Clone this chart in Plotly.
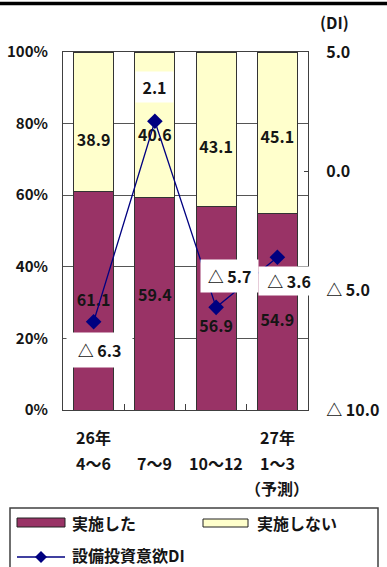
import plotly.graph_objects as go

# ---- data -------------------------------------------------------------
quarters = ["4〜6", "7〜9", "10〜12", "1〜3"]
year_row = ["26年", "", "", "27年"]
note_row = ["", "", "", "（予測）"]

implemented = [61.1, 59.4, 56.9, 54.9]       # 実施した (%)
not_implemented = [38.9, 40.6, 43.1, 45.1]   # 実施しない (%)
di = [-6.3, 2.1, -5.7, -3.6]                 # 設備投資意欲DI

left_tickvals = [0, 20, 40, 60, 80, 100]
left_ticktext = ["0%", "20%", "40%", "60%", "80%", "100%"]
right_tickvals = [5, 0, -5, -10]
right_ticktext = ["5.0", "0.0", "△ 5.0", "△ 10.0"]

# ---- styling / label placement -----------------------------------------
FONT = "Noto Sans CJK JP"
WEIGHT = 700
TXT = "#151515"
MAGENTA = "#993366"
CREAM = "#FFFFCC"
NAVY = "#000080"
GRID = "#555555"

impl_nudge = [-0.3, 2.0, -5.5, -2.9]      # value-label offsets (percent points)
not_nudge = [-5.6, -3.4, -5.5, -1.8]
di_shift = [(6, -28), (0, 34), (13, 31), (12, -24)]   # label offsets (px)
di_box = [(65, 34), (37, 30), (57, 32), (60, 28)]      # label box size (px)

W, H = 387, 567
L, R, T, B = 63, 308, 52, 410


def px(x):
    return (x - L) / (R - L)


def py(y):
    return (B - y) / (B - T)


def di_text(v):
    return f"△ {abs(v):.1f}" if v < 0 else f"{v:.1f}"


def font(size=16):
    return dict(family=FONT, size=size, color=TXT, weight=WEIGHT)


fig = go.Figure()

fig.add_bar(x=quarters, y=implemented, name="実施した",
            marker=dict(color=MAGENTA, line=dict(color="#333333", width=1)),
            hoverinfo="skip", showlegend=False)
fig.add_bar(x=quarters, y=not_implemented, name="実施しない",
            marker=dict(color=CREAM, line=dict(color="#333333", width=1)),
            hoverinfo="skip", showlegend=False)

# value labels inside the stacked segments
fig.add_scatter(x=quarters,
                y=[v / 2 + n for v, n in zip(implemented, impl_nudge)],
                mode="text", text=[f"{v:.1f}" for v in implemented],
                textfont=font(), hoverinfo="skip", showlegend=False)
fig.add_scatter(x=quarters,
                y=[a + v / 2 + n for a, v, n in zip(implemented, not_implemented, not_nudge)],
                mode="text", text=[f"{v:.1f}" for v in not_implemented],
                textfont=font(), hoverinfo="skip", showlegend=False)

# DI line on the secondary axis
fig.add_scatter(x=quarters, y=di, yaxis="y2", mode="lines+markers",
                name="設備投資意欲DI",
                line=dict(color=NAVY, width=1.3),
                marker=dict(symbol="diamond", size=12, color=NAVY),
                hoverinfo="skip", showlegend=False)

annotations = []
for q, v, (dx, dy), (bw, bh) in zip(quarters, di, di_shift, di_box):
    annotations.append(dict(x=q, y=v, xref="x", yref="y2", text=di_text(v),
                            showarrow=False, xshift=dx, yshift=dy,
                            xanchor="center", yanchor="middle",
                            width=bw, height=bh, bgcolor="white", borderpad=0,
                            font=font()))

# category labels below the axis
for row, ypix in ((year_row, 437), (quarters, 463), (note_row, 488)):
    for q, t in zip(quarters, row):
        if t:
            annotations.append(dict(x=q, y=py(ypix), xref="x", yref="paper",
                                    text=t, showarrow=False,
                                    xanchor="center", yanchor="middle",
                                    font=font()))

annotations.append(dict(x=px(334), y=py(22), xref="paper", yref="paper",
                        text="(DI)", showarrow=False,
                        xanchor="center", yanchor="middle", font=font()))

# legend
shapes = [
    dict(type="line", xref="paper", yref="paper", x0=px(0), x1=px(W),
         y0=py(3.5), y1=py(3.5), line=dict(color="black", width=3.5)),
    dict(type="rect", xref="paper", yref="paper", x0=px(10), x1=px(378),
         y0=py(508), y1=py(580), line=dict(color="#404040", width=1.5),
         fillcolor="white", layer="below"),
    dict(type="rect", xref="paper", yref="paper", x0=px(17), x1=px(65),
         y0=py(518), y1=py(527), fillcolor=MAGENTA,
         line=dict(color="#222222", width=1)),
    dict(type="rect", xref="paper", yref="paper", x0=px(203), x1=px(248),
         y0=py(519), y1=py(527), fillcolor=CREAM,
         line=dict(color="#222222", width=1)),
    dict(type="line", xref="paper", yref="paper", x0=px(17), x1=px(65),
         y0=py(557), y1=py(557), line=dict(color=NAVY, width=1.3)),
    dict(type="path", xref="paper", yref="paper",
         path=(f"M {px(41)},{py(551)} L {px(47)},{py(557)} "
               f"L {px(41)},{py(563)} L {px(35)},{py(557)} Z"),
         fillcolor=NAVY, line=dict(color=NAVY, width=0)),
]
for label, xpix, ypix in (("実施した", 70, 523), ("実施しない", 255, 523),
                          ("設備投資意欲DI", 70, 555)):
    annotations.append(dict(x=px(xpix), y=py(ypix), xref="paper", yref="paper",
                            text=label, showarrow=False, xanchor="left",
                            yanchor="middle", font=font()))

fig.update_layout(
    width=W, height=H,
    margin=dict(l=L, r=W - R, t=T, b=H - B, pad=0, autoexpand=False),
    paper_bgcolor="white", plot_bgcolor="white",
    barmode="stack", bargap=0.35,
    font=font(),
    xaxis=dict(type="category", range=[-0.5, 3.5], showgrid=False,
               automargin=False,
               showline=True, mirror=True, linecolor="#404040", linewidth=1,
               ticks="inside", tickson="boundaries", ticklen=6,
               tickcolor="#404040", showticklabels=False),
    yaxis=dict(range=[0, 100], tickvals=left_tickvals, ticktext=left_ticktext,
               automargin=False,
               showgrid=True, gridcolor=GRID, gridwidth=1, zeroline=False,
               showline=True, mirror=True, linecolor="#404040", linewidth=1,
               ticks="", ticklabelstandoff=11, tickfont=font(15)),
    yaxis2=dict(overlaying="y", side="right", range=[-10, 5],
                automargin=False,
                tickvals=right_tickvals, ticktext=right_ticktext,
                showgrid=False, zeroline=False, showline=True,
                linecolor="#404040", linewidth=1, ticks="inside", ticklen=4,
                tickcolor="#404040", ticklabelstandoff=14, tickfont=font()),
    annotations=annotations,
    shapes=shapes,
)

fig.write_html("out.html")
